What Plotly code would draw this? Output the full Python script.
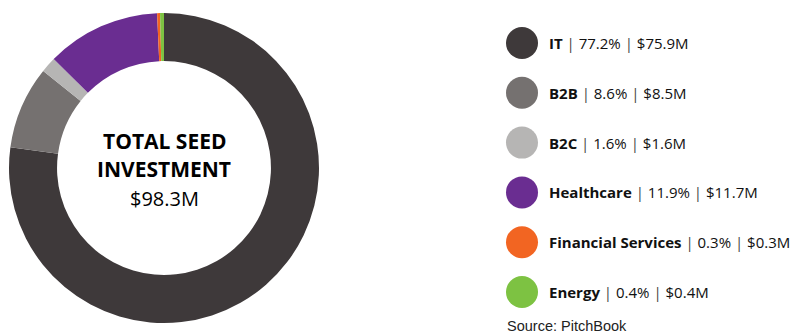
import plotly.graph_objects as go

categories = ["IT", "B2B", "B2C", "Healthcare", "Financial Services", "Energy"]
amounts = [75.9, 8.5, 1.6, 11.7, 0.3, 0.4]          # $M
percents = [77.2, 8.6, 1.6, 11.9, 0.3, 0.4]          # %
colors = ["#3e393a", "#757170", "#b6b5b4", "#6a2d91", "#f26522", "#7dc242"]
total_label = "$98.3M"
source = "Source: PitchBook"

W, H = 791, 336
cx, cy, R = 164, 168, 155

fig = go.Figure()
fig.add_trace(go.Pie(
    labels=categories, values=amounts, sort=False, direction="clockwise",
    rotation=0, hole=0.69, textinfo="none", hoverinfo="label+value+percent",
    marker=dict(colors=colors, line=dict(width=0)),
    domain=dict(x=[(cx - R) / W, (cx + R) / W], y=[(H - cy - R) / H, (H - cy + R) / H]),
    showlegend=False,
))

center_font = "Open Sans"
annotations = [
    dict(x=cx / W, y=(H - 141) / H, xref="paper", yref="paper", showarrow=False,
         xanchor="center", yanchor="middle",
         text="<b>TOTAL SEED</b>", font=dict(family=center_font, size=21, color="#000000")),
    dict(x=cx / W, y=(H - 169) / H, xref="paper", yref="paper", showarrow=False,
         xanchor="center", yanchor="middle",
         text="<b>INVESTMENT</b>", font=dict(family=center_font, size=21, color="#000000")),
    dict(x=cx / W, y=(H - 198) / H, xref="paper", yref="paper", showarrow=False,
         xanchor="center", yanchor="middle",
         text=total_label, font=dict(family=center_font, size=20, color="#000000")),
]
shapes = []
row_y0, row_dy = 43, 49.8
sep = "<span style='color:#444444'> | </span>"
for i, (c, p, a, col) in enumerate(zip(categories, percents, amounts, colors)):
    y = row_y0 + i * row_dy
    shapes.append(dict(type="circle", xref="paper", yref="paper",
                       x0=506 / W, x1=538 / W, y0=(H - y - 16) / H, y1=(H - y + 16) / H,
                       fillcolor=col, line=dict(width=0)))
    annotations.append(dict(
        x=547 / W, y=(H - y) / H, xref="paper", yref="paper", showarrow=False,
        xanchor="left", yanchor="middle",
        text=f"<b>{c}</b>{sep}{p:.1f}%{sep}${a:.1f}M",
        font=dict(family="Open Sans", size=15, color="#111111")))
annotations.append(dict(x=505 / W, y=(H - 326) / H, xref="paper", yref="paper", showarrow=False,
                        xanchor="left", yanchor="middle", text=source,
                        font=dict(family="Liberation Sans, Arial", size=14.5, color="#222222")))

fig.update_layout(width=W, height=H, margin=dict(l=0, r=0, t=0, b=0),
                  paper_bgcolor="white", plot_bgcolor="white",
                  annotations=annotations, shapes=shapes)
fig.write_html("out.html", config={"displayModeBar": False},
               post_script="document.body.style.margin='0px';document.body.style.overflow='hidden';")
